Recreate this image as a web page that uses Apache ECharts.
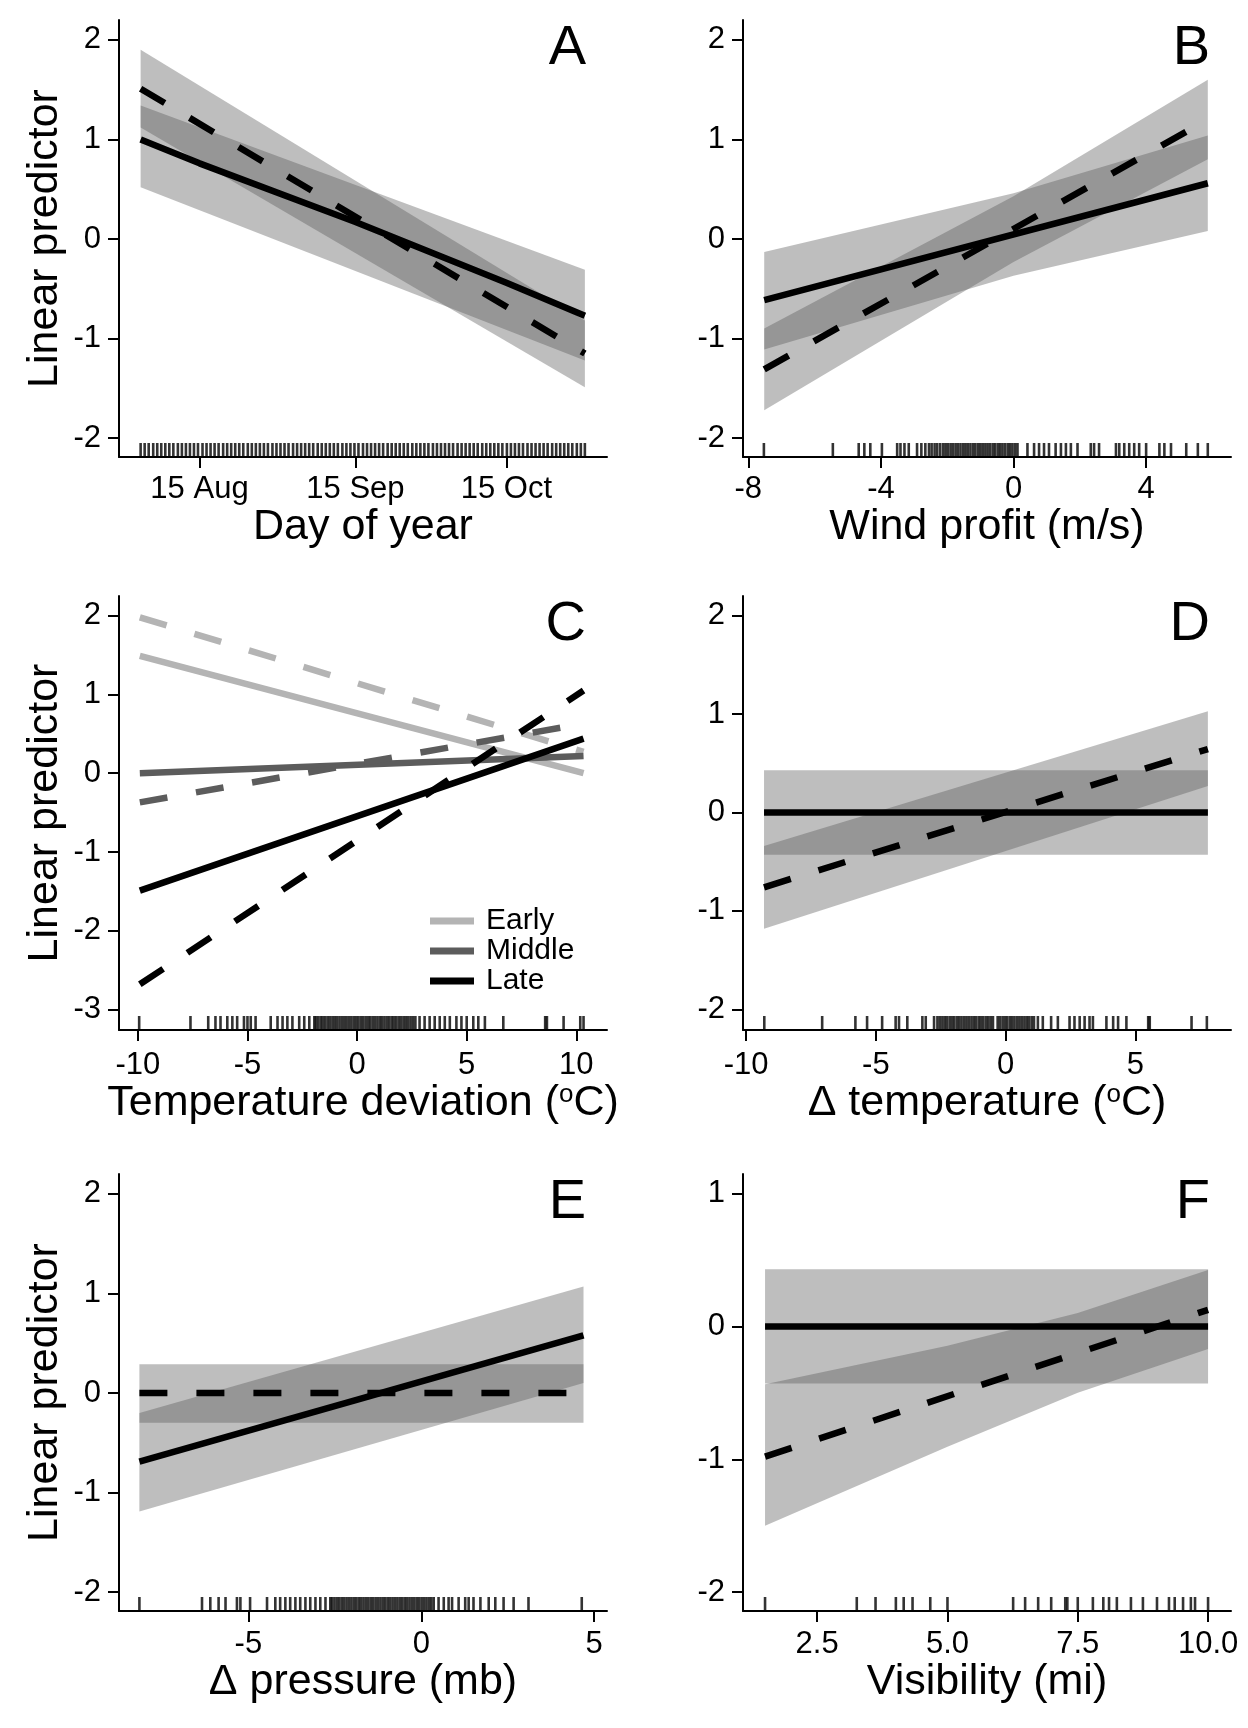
<!DOCTYPE html>
<html>
<head>
<meta charset="utf-8">
<title>Linear predictor panels</title>
<script src="https://cdn.jsdelivr.net/npm/echarts@6/dist/echarts.min.js"></script>
<style>
html, body { margin: 0; padding: 0; background: #fff; }
#main { width: 1248px; height: 1728px; }
</style>
</head>
<body>
<div id="main"></div>
<script>
// ---------- data ----------

// A: day of year
var aXTicks = [227, 258, 288];
var aXLabels = ['15 Aug', '15 Sep', '15 Oct'];
var aSolid = [[215.3, 1.00], [227, 0.76], [258, 0.17], [288, -0.44], [303.6, -0.77]];
var aDashed = [[215.3, 1.51], [303.6, -1.15]];
var aBandSolid = [[215.3, 0.52, 1.34], [303.6, -1.22, -0.31]];
var aBandDashed = [[215.3, 1.12, 1.90], [303.6, -1.49, -0.82]];
var aRug = [215.3, 216.1, 216.9, 217.8, 218.6, 219.4, 220.2, 221.0, 221.8, 222.7,
  223.5, 224.3, 225.1, 225.9, 226.7, 227.6, 228.4, 229.2, 230.0, 230.8, 231.7,
  232.5, 233.3, 234.1, 234.9, 235.7, 236.6, 237.4, 238.2, 239.0, 239.8, 240.6,
  241.5, 242.3, 243.1, 243.9, 244.7, 245.6, 246.4, 247.2, 248.0, 248.8, 249.6,
  250.5, 251.3, 252.1, 252.9, 253.7, 254.5, 255.4, 256.2, 257.0, 257.8, 258.6,
  259.5, 260.3, 261.1, 261.9, 262.7, 263.5, 264.4, 265.2, 266.0, 266.8, 267.6,
  268.4, 269.3, 270.1, 270.9, 271.7, 272.5, 273.4, 274.2, 275.0, 275.8, 276.6,
  277.4, 278.3, 279.1, 279.9, 280.7, 281.5, 282.3, 283.2, 284.0, 284.8, 285.6,
  286.4, 287.2, 288.1, 288.9, 289.7, 290.5, 291.3, 292.2, 293.0, 293.8, 294.6,
  295.4, 296.2, 297.1, 297.9, 298.7, 299.5, 300.3, 301.1, 302.0, 302.8, 303.6];

// B: wind profit
var bXTicks = [-8, -4, 0, 4];
var bSolid = [[-7.52, -0.615], [5.86, 0.56]];
var bDashed = [[-7.52, -1.31], [5.86, 1.20]];
var bBandSolid = [[-7.52, -1.11, -0.13], [0, -0.37, 0.46], [5.86, 0.08, 1.04]];
var bBandDashed = [[-7.52, -1.72, -0.90], [0, -0.23, 0.43], [5.86, 0.80, 1.60]];
var bRug = [-7.53, -5.45, -4.67, -4.50, -4.32, -3.97, -3.51, -3.41, -3.29, -3.16,
  -2.91, -2.78, -2.66, -2.55, -2.47, -2.38, -2.30, -2.21, -2.12, -2.05, -1.98,
  -1.90, -1.83, -1.75, -1.68, -1.60, -1.52, -1.45, -1.38, -1.30, -1.22, -1.15,
  -1.07, -1.00, -0.93, -0.85, -0.78, -0.70, -0.62, -0.55, -0.47, -0.40, -0.33,
  -0.25, -0.17, -0.10, -0.03, 0.05, 0.12, 0.42, 0.62, 0.77, 0.92, 1.07, 1.27,
  1.43, 1.58, 1.73, 1.93, 2.33, 2.43, 2.58, 3.09, 3.19, 3.34, 3.49, 3.64, 3.79,
  4.00, 4.40, 4.55, 4.75, 5.21, 5.56, 5.86];

// C: temperature deviation, three seasons
var cXTicks = [-10, -5, 0, 5, 10];
var cEarlySolid = [[-9.91, 1.49], [10.33, 0.00]];
var cEarlyDashed = [[-9.91, 1.98], [10.33, 0.27]];
var cMiddleSolid = [[-9.91, 0.00], [10.33, 0.22]];
var cMiddleDashed = [[-9.91, -0.37], [10.33, 0.63]];
var cLateSolid = [[-9.91, -1.49], [10.33, 0.44]];
var cLateDashed = [[-9.91, -2.68], [10.33, 1.05]];
var cRug = [-9.94, -7.60, -6.79, -6.46, -6.23, -5.92, -5.69, -5.47, -5.16, -5.00,
  -4.85, -4.63, -3.94, -3.63, -3.40, -3.18, -2.95, -2.64, -2.41, -2.18, -1.95,
  -1.88, -1.77, -1.66, -1.56, -1.45, -1.34, -1.23, -1.12, -1.02, -0.91, -0.80,
  -0.69, -0.58, -0.48, -0.37, -0.26, -0.15, -0.04, 0.06, 0.17, 0.28, 0.39, 0.50,
  0.60, 0.71, 0.82, 0.93, 1.04, 1.14, 1.25, 1.36, 1.47, 1.58, 1.68, 1.79, 1.90,
  2.01, 2.12, 2.22, 2.33, 2.44, 2.55, 2.66, 2.85, 3.08, 3.31, 3.54, 3.77, 4.00,
  4.23, 4.53, 4.76, 5.00, 5.30, 5.53, 5.83, 6.67, 8.58, 8.66, 9.42, 10.18, 10.33];

// D: change in temperature
var dXTicks = [-10, -5, 0, 5];
var dSolid = [[-9.31, 0], [7.79, 0]];
var dDashed = [[-9.31, -0.76], [7.79, 0.645]];
var dBandSolid = [[-9.31, -0.43, 0.43], [7.79, -0.43, 0.43]];
var dBandDashed = [[-9.31, -1.18, -0.34], [7.79, 0.27, 1.03]];
var dRug = [-9.30, -7.07, -5.79, -5.34, -4.76, -4.24, -4.11, -3.79, -3.21, -3.08,
  -2.76, -2.63, -2.54, -2.44, -2.35, -2.26, -2.16, -2.07, -1.98, -1.88, -1.79,
  -1.70, -1.60, -1.51, -1.42, -1.32, -1.23, -1.14, -1.04, -0.95, -0.86, -0.76,
  -0.67, -0.58, -0.49, -0.31, -0.22, -0.12, -0.03, 0.06, 0.16, 0.25, 0.34, 0.44,
  0.53, 0.62, 0.72, 0.81, 0.90, 1.00, 1.09, 1.24, 1.43, 1.75, 2.01, 2.46, 2.65,
  2.85, 3.04, 3.23, 3.36, 3.88, 4.14, 4.33, 4.65, 5.49, 5.55, 7.16, 7.75];

// E: change in pressure
var eXTicks = [-5, 0, 5];
var eSolid = [[-8.15, -0.69], [4.69, 0.58]];
var eDashed = [[-8.15, 0], [4.69, 0]];
var eBandSolid = [[-8.15, -1.19, -0.20], [4.69, 0.10, 1.07]];
var eBandDashed = [[-8.15, -0.30, 0.29], [4.69, -0.30, 0.29]];
var eRug = [-8.15, -6.34, -6.10, -5.86, -5.66, -5.33, -5.23, -4.95, -4.46, -4.22,
  -4.08, -3.93, -3.79, -3.64, -3.50, -3.35, -3.21, -3.06, -2.92, -2.77, -2.63,
  -2.58, -2.51, -2.44, -2.37, -2.30, -2.23, -2.16, -2.09, -2.02, -1.95, -1.88,
  -1.81, -1.74, -1.67, -1.60, -1.53, -1.46, -1.39, -1.32, -1.25, -1.18, -1.11,
  -1.04, -0.97, -0.90, -0.83, -0.76, -0.69, -0.62, -0.55, -0.48, -0.41, -0.34,
  -0.27, -0.20, -0.13, -0.06, 0.01, 0.08, 0.15, 0.22, 0.29, 0.36, 0.50, 0.65,
  0.79, 0.89, 1.08, 1.27, 1.37, 1.51, 1.71, 1.95, 2.14, 2.38, 2.67, 3.10, 4.64];

// F: visibility
var fXTicks = [2.5, 5.0, 7.5, 10.0];
var fSolid = [[1.5, 0], [10.0, 0]];
var fDashed = [[1.5, -0.98], [10.0, 0.125]];
var fBandSolid = [[1.5, -0.43, 0.43], [10.0, -0.43, 0.43]];
var fBandDashed = [[1.5, -1.50, -0.436], [5.0, -0.905, -0.145], [7.5, -0.50, 0.10], [10.0, -0.17, 0.425]];
var fRug = [1.50, 3.26, 3.62, 4.01, 4.16, 4.33, 4.67, 5.00, 6.26, 6.49, 6.74, 6.99,
  7.26, 7.30, 7.50, 7.79, 7.99, 8.10, 8.25, 8.52, 8.75, 9.02, 9.25, 9.36, 9.52,
  9.67, 9.75, 10.00];

// ---------- layout and styling ----------
var FONT = '"Liberation Sans", Arial, Helvetica, sans-serif';
var BAND_FILL = 'rgba(86,86,86,0.385)';
var EARLY = '#b4b4b4', MIDDLE = '#5c5c5c', LATE = '#000000';
var LW = 6.5;
var DASH = [28, 29];

// raised small "o" for the degree sign in the axis titles
var supRich = { sup: { fontSize: 26, padding: [0, 0, 17, 0], color: '#000', fontFamily: FONT } };

var panels = [
  { letter: 'A', left: 119, top: 20, height: 437, xMin: 211, xMax: 308, yMin: -2.19, yMax: 2.2,
    xTicks: aXTicks, yTicks: [-2, -1, 0, 1, 2],
    xFmt: function (v) { return aXLabels[aXTicks.indexOf(v)]; },
    xName: 'Day of year', yName: 'Linear predictor', labelMargin: 17, nameGap: 47,
    bands: [aBandSolid, aBandDashed],
    lines: [{ data: aSolid, color: '#000' }, { data: aDashed, color: '#000', dash: true }],
    rug: aRug },
  { letter: 'B', left: 743, top: 20, height: 437, xMin: -8.16, xMax: 6.56, yMin: -2.19, yMax: 2.2,
    xTicks: bXTicks, yTicks: [-2, -1, 0, 1, 2],
    xName: 'Wind profit (m/s)', labelMargin: 17, nameGap: 47,
    bands: [bBandSolid, bBandDashed],
    lines: [{ data: bSolid, color: '#000' }, { data: bDashed, color: '#000', dash: true }],
    rug: bRug },
  { letter: 'C', left: 119, top: 596, height: 434, xMin: -10.86, xMax: 11.4, yMin: -3.26, yMax: 2.25,
    xTicks: cXTicks, yTicks: [-3, -2, -1, 0, 1, 2],
    xName: 'Temperature deviation ({sup|o}C)', yName: 'Linear predictor', labelMargin: 20, nameGap: 52,
    bands: [],
    lines: [
      { data: cEarlySolid, color: EARLY, name: 'Early' },
      { data: cEarlyDashed, color: EARLY, dash: true },
      { data: cMiddleSolid, color: MIDDLE, name: 'Middle' },
      { data: cMiddleDashed, color: MIDDLE, dash: true },
      { data: cLateSolid, color: LATE, name: 'Late' },
      { data: cLateDashed, color: LATE, dash: true }
    ],
    rug: cRug },
  { letter: 'D', left: 743, top: 596, height: 434, xMin: -10.12, xMax: 8.68, yMin: -2.21, yMax: 2.2,
    xTicks: dXTicks, yTicks: [-2, -1, 0, 1, 2],
    xName: '\u0394 temperature ({sup|o}C)', labelMargin: 20, nameGap: 52,
    bands: [dBandSolid, dBandDashed],
    lines: [{ data: dSolid, color: '#000' }, { data: dDashed, color: '#000', dash: true }],
    rug: dRug },
  { letter: 'E', left: 119, top: 1174, height: 437, xMin: -8.74, xMax: 5.37, yMin: -2.19, yMax: 2.2,
    xTicks: eXTicks, yTicks: [-2, -1, 0, 1, 2],
    xName: '\u0394 pressure (mb)', yName: 'Linear predictor', labelMargin: 18, nameGap: 49,
    bands: [eBandSolid, eBandDashed],
    lines: [{ data: eSolid, color: '#000' }, { data: eDashed, color: '#000', dash: true }],
    rug: eRug },
  { letter: 'F', left: 743, top: 1174, height: 437, xMin: 1.077, xMax: 10.44, yMin: -2.142, yMax: 1.147,
    xTicks: fXTicks, yTicks: [-2, -1, 0, 1],
    xFmt: function (v) { return v.toFixed(1); },
    xName: 'Visibility (mi)', labelMargin: 18, nameGap: 49,
    bands: [fBandSolid, fBandDashed],
    lines: [{ data: fSolid, color: '#000' }, { data: fDashed, color: '#000', dash: true }],
    rug: fRug }
];

var PLOT_W = 488;
var axisLineStyle = { color: '#000', width: 2 };
var labelStyle = { color: '#000', fontSize: 31, fontFamily: FONT };
var nameStyle = { color: '#000', fontSize: 43, fontFamily: FONT, rich: supRich };

var option = {
  animation: false,
  backgroundColor: '#fff',
  grid: [], xAxis: [], yAxis: [], series: [], graphic: [],
  legend: {
    data: ['Early', 'Middle', 'Late'],
    orient: 'vertical',
    left: 430, top: 906,
    padding: 0, itemGap: 0,
    itemWidth: 44, itemHeight: 7,
    icon: 'rect',
    selectedMode: false,
    textStyle: { color: '#000', fontSize: 30, fontFamily: FONT, lineHeight: 30, padding: [0, 0, 0, 7] }
  }
};

function bandSeries(band, i) {
  return {
    type: 'custom', xAxisIndex: i, yAxisIndex: i, silent: true, z: 1,
    data: band,
    encode: { x: 0, y: [1, 2] },
    renderItem: function (params, api) {
      if (params.dataIndex !== 0) return;
      var upper = band.map(function (d) { return api.coord([d[0], d[2]]); });
      var lower = band.map(function (d) { return api.coord([d[0], d[1]]); }).reverse();
      return { type: 'polygon', shape: { points: upper.concat(lower) }, style: { fill: BAND_FILL } };
    }
  };
}

panels.forEach(function (p, i) {
  option.grid.push({ left: p.left, top: p.top, width: PLOT_W, height: p.height });

  option.xAxis.push({
    type: 'value', gridIndex: i, min: p.xMin, max: p.xMax,
    splitLine: { show: false },
    axisLine: { onZero: false, lineStyle: axisLineStyle },
    axisTick: { customValues: p.xTicks, length: 11, lineStyle: axisLineStyle },
    axisLabel: { customValues: p.xTicks, formatter: p.xFmt, margin: p.labelMargin,
      color: labelStyle.color, fontSize: labelStyle.fontSize, fontFamily: FONT },
    name: p.xName, nameLocation: 'middle', nameGap: p.nameGap, nameTextStyle: nameStyle
  });

  option.yAxis.push({
    type: 'value', gridIndex: i, min: p.yMin, max: p.yMax,
    splitLine: { show: false },
    axisLine: { onZero: false, lineStyle: axisLineStyle },
    axisTick: { customValues: p.yTicks, length: 11, lineStyle: axisLineStyle },
    axisLabel: { customValues: p.yTicks, margin: 18,
      color: labelStyle.color, fontSize: labelStyle.fontSize, fontFamily: FONT },
    name: p.yName || '', nameLocation: 'middle', nameGap: 52,
    nameTextStyle: { color: '#000', fontSize: 43, fontFamily: FONT }
  });

  p.bands.forEach(function (b) { option.series.push(bandSeries(b, i)); });

  p.lines.forEach(function (l) {
    option.series.push({
      type: 'line', name: l.name, xAxisIndex: i, yAxisIndex: i,
      data: l.data, symbol: 'none', silent: true, z: 3,
      itemStyle: { color: l.color },
      lineStyle: { color: l.color, width: LW, type: l.dash ? DASH : 'solid', cap: 'butt' }
    });
  });

  // rug: short ticks standing on the x axis
  option.series.push({
    type: 'scatter', xAxisIndex: i, yAxisIndex: i, silent: true, z: 4,
    data: p.rug.map(function (x) { return [x, p.yMin]; }),
    symbol: 'rect', symbolSize: [2.6, 14], symbolOffset: [0, -7],
    itemStyle: { color: '#000' }
  });

  option.graphic.push({
    type: 'text', x: p.left + 467, y: p.top + 29, silent: true,
    style: { text: p.letter, fill: '#000', fontSize: 56, fontFamily: FONT,
      align: 'right', verticalAlign: 'middle', textAlign: 'right', textVerticalAlign: 'middle' }
  });
});

var chart = echarts.init(document.getElementById('main'));
chart.setOption(option);
</script>
</body>
</html>
